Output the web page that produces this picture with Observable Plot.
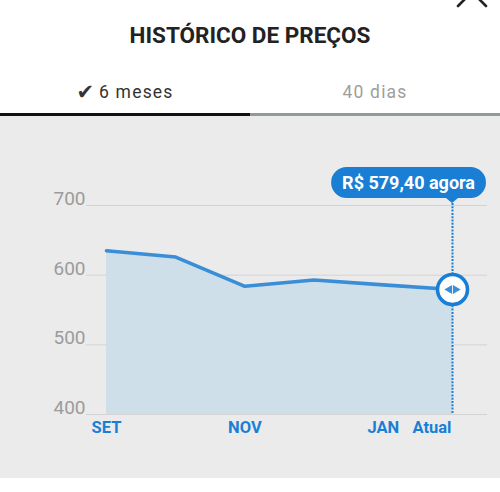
<!DOCTYPE html>
<html><head><meta charset="utf-8">
<script src="https://cdn.jsdelivr.net/npm/d3@7"></script>
<script src="https://cdn.jsdelivr.net/npm/@observablehq/plot@0.6"></script>
<style>
html,body{margin:0;padding:0;background:#fff;width:500px;height:492px;overflow:hidden;font-family:Roboto,sans-serif;}
#wrap{position:relative;width:500px;height:492px;}
#close{position:absolute;left:0;top:0;}
#title{position:absolute;left:0;top:22px;width:500px;text-align:center;font-size:22.5px;font-weight:700;color:#222;line-height:26px;white-space:nowrap;}
.tab{position:absolute;top:79px;width:250px;text-align:center;font-size:17.5px;letter-spacing:1.2px;line-height:26px;white-space:nowrap;}
#tab1{left:0;color:#333;}
#tab2{left:250px;color:#9e9e9e;}
.chk{font-family:"DejaVu Sans";font-size:21px;letter-spacing:0;margin-right:5px;color:#333;vertical-align:-1px;}
#bar1{position:absolute;left:0;top:113px;width:250px;height:3px;background:#111;}
#bar2{position:absolute;left:250px;top:113px;width:250px;height:3px;background:#919b99;}
#chart{position:absolute;left:0;top:116px;}
</style>
</head><body>
<div id="wrap">
  <svg id="close" width="500" height="20"><g stroke="#222" stroke-width="2.6" stroke-linecap="round"><line x1="458" y1="-22" x2="486" y2="6"/><line x1="486" y1="-22" x2="458" y2="6"/></g></svg>
  <div id="title">HISTÓRICO DE PREÇOS</div>
  <div id="tab1" class="tab"><span class="chk">✔</span>6 meses</div>
  <div id="tab2" class="tab">40 dias</div>
  <div id="bar1"></div><div id="bar2"></div>
  <div id="chart"></div>
</div>
<script>
const months = ["SET", "OUT", "NOV", "DEZ", "JAN", "Atual"];
const prices = [635, 626, 584, 593, 586, 579.4];
const yTicks = [400, 500, 600, 700];
const yDomain = [400, 700];
const tickMonths = ["SET", "NOV", "JAN"];
const currentLabel = "Atual";
const currentSuffix = "agora";

const data = months.map((m, i) => ({i, month: m, price: prices[i]}));
const last = data[data.length - 1];
const tickData = data.filter(d => tickMonths.includes(d.month));

const blue = "#1a7fd4";
const lineBlue = "#3a8ed7";

const plot = Plot.plot({
  width: 500, height: 362,
  marginLeft: 86, marginRight: 13, marginTop: 89, marginBottom: 64,
  style: {background: "#ebebeb", fontFamily: "Roboto, sans-serif", overflow: "visible"},
  x: {domain: [0, data.length - 1], range: [106, 452], axis: null, label: null},
  y: {domain: yDomain, axis: null, label: null},
  marks: [
    Plot.ruleY(yTicks, {stroke: "#d3d3d3", strokeWidth: 1}),
    Plot.areaY(data, {x: "i", y1: yDomain[0], y2: "price", fill: "#cedfea"}),
    Plot.line(data, {x: "i", y: "price", stroke: lineBlue, strokeWidth: 3.6}),
    Plot.axisY({ticks: yTicks, label: null, tickSize: 0, tickPadding: 1, fontSize: 19, color: "#9b9b9b", dy: -6.5, tickFormat: d => String(d)}),
    Plot.text(tickData, {x: "i", text: "month", frameAnchor: "bottom", lineAnchor: "top", dy: 6.5, fontSize: 16.5, fontWeight: "bold", fill: blue}),
    Plot.text([last], {x: "i", text: () => currentLabel, frameAnchor: "bottom", lineAnchor: "top", dy: 6.5, dx: -1, textAnchor: "end", fontSize: 16.5, fontWeight: "bold", fill: blue}),
    Plot.ruleX([last], {x: "i", stroke: blue, strokeWidth: 2, strokeDasharray: "2,1.3", insetTop: -2}),
    Plot.dot([last], {x: "i", y: "price", r: 15, fill: "#fff", stroke: blue, strokeWidth: 3.6}),
    Plot.dot([last], {x: "i", y: "price", symbol: "triangle", r: 3.3, rotate: -90, dx: -3, fill: lineBlue, stroke: null}),
    Plot.dot([last], {x: "i", y: "price", symbol: "triangle", r: 3.3, rotate: 90, dx: 3, fill: lineBlue, stroke: null})
  ]
});
document.getElementById("chart").appendChild(plot);

// price tag above the current marker
const sx = plot.scale("x"), sy = plot.scale("y");
const px = sx.apply(last.i);
const tipY = sy.apply(yDomain[1]) - 2;
const pillBottom = tipY - 5, pillH = 31, pillTop = pillBottom - pillH;
const g = d3.select(plot).append("g");
const path = g.append("path").attr("fill", blue);
const priceStr = "R$ " + last.price.toFixed(2).replace(".", ",") + " " + currentSuffix;
const txt = g.append("text").attr("fill", "#fff").attr("font-size", 18).attr("font-weight", "bold")
  .attr("font-family", "Roboto, sans-serif").attr("text-anchor", "middle").text(priceStr);
const tw = txt.node().getComputedTextLength();
const pillW = tw + 22;
const pillRight = Math.min(px + pillW / 2, 500 - 13 - 1);
const pillLeft = pillRight - pillW;
const r = pillH / 2;
path.attr("d",
  `M${pillLeft + r},${pillTop} H${pillRight - r} A${r},${r} 0 0 1 ${pillRight - r},${pillBottom}` +
  ` H${px + 6} L${px},${tipY} L${px - 6},${pillBottom} H${pillLeft + r} A${r},${r} 0 0 1 ${pillLeft + r},${pillTop} Z`);
txt.attr("x", (pillLeft + pillRight) / 2).attr("y", pillTop + 21.5);
</script>
</body></html>
